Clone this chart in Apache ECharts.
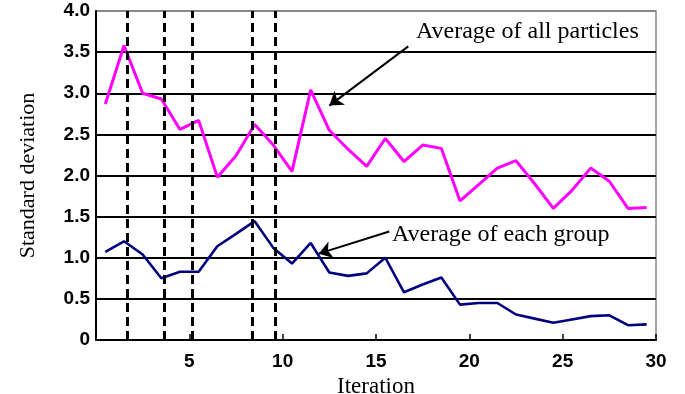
<!DOCTYPE html>
<html>
<head>
<meta charset="utf-8">
<script src="https://cdn.jsdelivr.net/npm/echarts@6/dist/echarts.min.js"></script>
<style>
html,body{margin:0;padding:0;background:#fff;}
#chart{width:685px;height:394px;}
</style>
</head>
<body>
<div id="chart"></div>
<script>
// Data
const iterations = [0.5,1.5,2.5,3.5,4.5,5.5,6.5,7.5,8.5,9.5,10.5,11.5,12.5,13.5,14.5,15.5,16.5,17.5,18.5,19.5,20.5,21.5,22.5,23.5,24.5,25.5,26.5,27.5,28.5,29.5];
const allParticles = [2.87,3.58,3.00,2.93,2.56,2.67,1.98,2.24,2.62,2.37,2.05,3.04,2.55,2.32,2.11,2.45,2.17,2.37,2.33,1.69,1.89,2.09,2.18,1.90,1.60,1.82,2.09,1.93,1.60,1.61];
const eachGroup = [1.07,1.20,1.04,0.75,0.83,0.83,1.14,1.29,1.445,1.12,0.93,1.18,0.82,0.78,0.81,1.00,0.58,0.675,0.76,0.43,0.45,0.45,0.31,0.26,0.21,0.25,0.29,0.30,0.18,0.19];
const dashedLineIters = [1.66,3.67,5.17,8.36,9.62];
const xTickLabels = ['5','10','15','20','25','30'];
const yTickLabels = ['0','0.5','1.0','1.5','2.0','2.5','3.0','3.5','4.0'];
const seriesNames = ['Average of all particles','Average of each group'];
// annotation arrows: [from x, from y, to x, to y] in data units
const arrowAll = [16.73, 3.57, 12.5, 2.85];
const arrowGroup = [15.71, 1.32, 11.93, 1.05];

const pairs = (xs, ys) => xs.map((x, i) => [x, ys[i]]);

const chart = echarts.init(document.getElementById('chart'));
const serif = '"Liberation Serif","Times New Roman",serif';
const sans = '"Liberation Sans",Arial,sans-serif';

const option = {
  animation: false,
  backgroundColor: '#fff',
  grid: {left: 96, right: 29, top: 11, bottom: 54, outerBoundsMode: 'none', containLabel: false,
         show: true, borderColor: '#888', borderWidth: 1.5, backgroundColor: 'transparent'},
  xAxis: {
    type: 'value', min: 0, max: 30, interval: 5,
    name: 'Iteration', nameLocation: 'middle', nameGap: 27,
    nameTextStyle: {fontFamily: serif, fontSize: 23, color: '#000'},
    axisLine: {show: true, lineStyle: {color: '#000', width: 2}},
    axisTick: {show: true, inside: true, length: 6, lineStyle: {color: '#000', width: 1.5}},
    axisLabel: {
      margin: 12, fontFamily: sans, fontWeight: 'bold', fontSize: 19, color: '#000',
      formatter: v => { const i = v / 5 - 1; return i >= 0 ? xTickLabels[i] : ''; }
    },
    splitLine: {show: false}
  },
  yAxis: {
    type: 'value', min: 0, max: 4, interval: 0.5,
    name: 'Standard deviation', nameLocation: 'middle', nameGap: 57, nameRotate: 90,
    nameTextStyle: {fontFamily: serif, fontSize: 22, color: '#000'},
    axisLine: {show: true, lineStyle: {color: '#000', width: 2}},
    axisTick: {show: false},
    axisLabel: {
      margin: 6, fontFamily: sans, fontWeight: 'bold', fontSize: 19, color: '#000',
      formatter: v => yTickLabels[Math.round(v / 0.5)]
    },
    splitLine: {show: true, lineStyle: {color: ['#000','#000','#000','#000','#000','#000','#000','#000','#888'], width: 1.8}}
  },
  series: [
    {
      name: seriesNames[0], type: 'line', data: pairs(iterations, allParticles),
      showSymbol: false, symbol: 'none',
      lineStyle: {color: '#ff00ff', width: 3}, z: 3,
      markLine: {
        silent: true, symbol: ['none','none'], label: {show: false},
        lineStyle: {color: '#000', width: 3, type: [9,5]},
        data: dashedLineIters.map(x => ({xAxis: x}))
      }
    },
    {
      name: seriesNames[1], type: 'line', data: pairs(iterations, eachGroup),
      showSymbol: false, symbol: 'none',
      lineStyle: {color: '#000080', width: 2.6}, z: 3,
      markLine: {
        silent: true, symbol: ['none','arrow'], symbolSize: 13, label: {show: false},
        lineStyle: {color: '#000', width: 2, type: 'solid'},
        data: [
          [{coord: [arrowAll[0], arrowAll[1]]}, {coord: [arrowAll[2], arrowAll[3]]}],
          [{coord: [arrowGroup[0], arrowGroup[1]]}, {coord: [arrowGroup[2], arrowGroup[3]]}]
        ]
      }
    }
  ],
  graphic: [
    {type: 'text', left: 416, top: 20, style: {text: seriesNames[0], font: '24px ' + serif, fill: '#000'}},
    {type: 'text', left: 392, top: 223, style: {text: seriesNames[1], font: '24px ' + serif, fill: '#000'}}
  ]
};
chart.setOption(option);
</script>
</body>
</html>
